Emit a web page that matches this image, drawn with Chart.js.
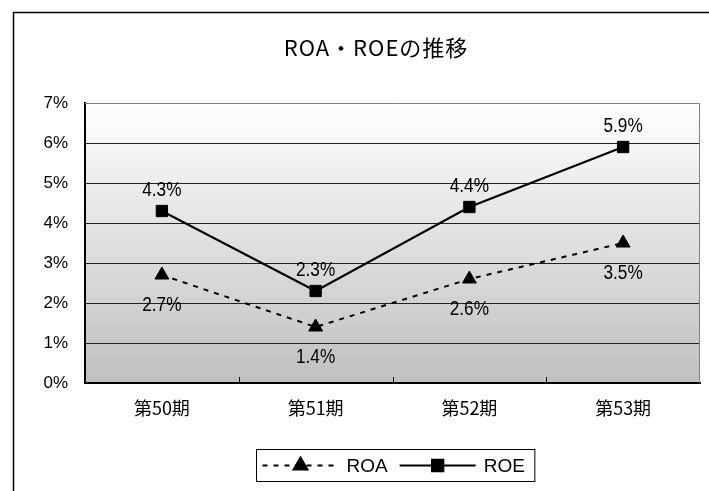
<!DOCTYPE html>
<html>
<head>
<meta charset="utf-8">
<script src="https://cdn.jsdelivr.net/npm/chart.js@4.4.0/dist/chart.umd.min.js"></script>
<style>
html, body { margin: 0; padding: 0; background: #fff; overflow: hidden; }
canvas { display: block; }
</style>
</head>
<body>
<canvas id="c" width="709" height="491"></canvas>
<script>
// values
const periods = ["第50期", "第51期", "第52期", "第53期"];
const roa = [2.7, 1.4, 2.6, 3.5];
const roe = [4.3, 2.3, 4.4, 5.9];
const yTicks = [0, 1, 2, 3, 4, 5, 6, 7];
const chartTitle = "ROA・ROEの推移";

const NUM_FONT = "'Liberation Sans Narrow', 'Liberation Sans', Arial, sans-serif";
const JP_FONT = "'Noto Sans CJK JP', 'Noto Sans', sans-serif";

// gradient plot background + outer frame
const framePlugin = {
    id: "frame",
    beforeDraw(chart) {
        const ctx = chart.ctx;
        const a = chart.chartArea;
        ctx.save();
        ctx.fillStyle = "#fff";
        ctx.fillRect(0, 0, chart.width, chart.height);
        ctx.strokeStyle = "#000";
        ctx.lineWidth = 1.5;
        ctx.strokeRect(13.5, 12.5, 800, 600);
        const grad = ctx.createLinearGradient(0, a.top, 0, a.bottom);
        grad.addColorStop(0, "#ffffff");
        grad.addColorStop(1, "#c0c0c0");
        ctx.fillStyle = grad;
        ctx.fillRect(a.left, a.top, a.right - a.left, a.bottom - a.top);
        ctx.restore();
    },
    beforeDatasetsDraw(chart) {
        const ctx = chart.ctx;
        const a = chart.chartArea;
        const x = chart.scales.x;
        ctx.save();
        ctx.strokeStyle = "#808080";
        ctx.lineWidth = 1;
        ctx.beginPath();
        ctx.moveTo(a.left, a.top + 0.5);
        ctx.lineTo(a.right - 0.5, a.top + 0.5);
        ctx.lineTo(a.right - 0.5, a.bottom);
        ctx.stroke();
        // inward tick marks between categories
        ctx.strokeStyle = "#000";
        ctx.beginPath();
        for (let i = 0; i < periods.length - 1; i++) {
            const px = Math.round((x.getPixelForValue(i) + x.getPixelForValue(i + 1)) / 2) + 0.5;
            ctx.moveTo(px, a.bottom);
            ctx.lineTo(px, a.bottom - 6);
        }
        ctx.stroke();
        ctx.restore();
    },
};

// title centred on the outer frame, not on the plot
const frameTitle = {
    id: "frameTitle",
    afterDraw(chart) {
        const ctx = chart.ctx;
        ctx.save();
        ctx.font = "22px " + JP_FONT;
        if ("letterSpacing" in ctx) ctx.letterSpacing = "1px";
        ctx.fillStyle = "#000";
        ctx.textAlign = "center";
        ctx.textBaseline = "middle";
        ctx.fillText(chartTitle, 376, 48);
        ctx.restore();
    },
};

// value labels next to points (slightly condensed like the original)
const labelOffsets = [30, -21];
const valueLabels = {
    id: "valueLabels",
    afterDatasetsDraw(chart) {
        const ctx = chart.ctx;
        const squeeze = 0.86;
        ctx.save();
        ctx.font = "20px " + NUM_FONT;
        ctx.fillStyle = "#000";
        ctx.textAlign = "center";
        ctx.textBaseline = "middle";
        chart.data.datasets.forEach((ds, i) => {
            chart.getDatasetMeta(i).data.forEach((pt, j) => {
                ctx.save();
                ctx.translate(pt.x, pt.y + labelOffsets[i]);
                ctx.scale(squeeze, 1);
                ctx.fillText(ds.data[j].toFixed(1) + "%", 0, 0);
                ctx.restore();
            });
        });
        ctx.restore();
    },
};

// boxed legend with line + marker samples
const boxLegend = {
    id: "boxLegend",
    afterDraw(chart) {
        const ctx = chart.ctx;
        const a = chart.chartArea;
        ctx.save();
        ctx.font = "19px 'Liberation Sans', Arial, sans-serif";
        const sample = 76, gap = 8, itemGap = 12, pad = 6;
        const items = chart.data.datasets.map((ds) => ({ ds, w: ctx.measureText(ds.label).width }));
        let total = pad;
        items.forEach((it, k) => { total += sample + gap + it.w + (k < items.length - 1 ? itemGap : 10); });
        const h = 32;
        const left = Math.round((a.left + a.right) / 2 + 3 - total / 2) + 0.5;
        const top = Math.round(a.bottom + 66) + 0.5;
        ctx.strokeStyle = "#000";
        ctx.lineWidth = 1;
        ctx.strokeRect(left, top, total, h);
        const cy = top + h / 2;
        let x = left + pad;
        items.forEach((it) => {
            const ds = it.ds;
            ctx.strokeStyle = ds.borderColor;
            ctx.lineWidth = ds.borderWidth;
            ctx.setLineDash(ds.borderDash || []);
            ctx.beginPath();
            ctx.moveTo(x, cy);
            ctx.lineTo(x + sample, cy);
            ctx.stroke();
            ctx.setLineDash([]);
            Chart.helpers.drawPoint(ctx, {
                pointStyle: ds.pointStyle,
                radius: ds.pointRadius,
                borderWidth: 1,
                rotation: 0,
            }, x + sample / 2, cy);
            ctx.fillStyle = "#000";
            ctx.textAlign = "left";
            ctx.textBaseline = "middle";
            ctx.fillText(ds.label, x + sample + gap, cy + 1);
            x += sample + gap + it.w + itemGap;
        });
        ctx.restore();
    },
};

const ctx = document.getElementById("c").getContext("2d");

new Chart(ctx, {
    type: "line",
    data: {
        labels: periods,
        datasets: [
            {
                label: "ROA",
                data: roa,
                borderColor: "#000",
                backgroundColor: "#000",
                borderWidth: 2,
                borderDash: [5, 6],
                pointStyle: "triangle",
                pointRadius: 8,
                pointBorderWidth: 1,
                tension: 0,
            },
            {
                label: "ROE",
                data: roe,
                borderColor: "#000",
                backgroundColor: "#000",
                borderWidth: 2,
                pointStyle: "rect",
                pointRadius: 8,
                pointBorderWidth: 1,
                tension: 0,
            },
        ],
    },
    options: {
        responsive: false,
        devicePixelRatio: 1,
        animation: false,
        layout: { padding: { left: 14, right: 2, top: 103, bottom: 68 } },
        plugins: {
            legend: { display: false },
            tooltip: { enabled: false },
            title: { display: false },
        },
        scales: {
            x: {
                offset: true,
                grid: { display: false, drawTicks: false },
                border: { display: true, color: "#000", width: 2 },
                ticks: { color: "#000", padding: 14, font: { family: JP_FONT, size: 18 } },
                afterFit(scale) { scale.height = 40; },
            },
            y: {
                min: 0,
                max: 7,
                afterBuildTicks(scale) { scale.ticks = yTicks.map((v) => ({ value: v })); },
                grid: {
                    color: (c) => (c.tick && c.tick.value === 7 ? "rgba(0,0,0,0)" : "#222"),
                    lineWidth: 1,
                    drawTicks: false,
                },
                border: { display: true, color: "#000", width: 2 },
                ticks: {
                    color: "#000",
                    padding: 17,
                    font: { family: NUM_FONT, size: 17 },
                    callback: (v) => v + "%",
                },
                afterFit(scale) { scale.width = 71; },
            },
        },
    },
    plugins: [framePlugin, frameTitle, valueLabels, boxLegend],
});
</script>
</body>
</html>
